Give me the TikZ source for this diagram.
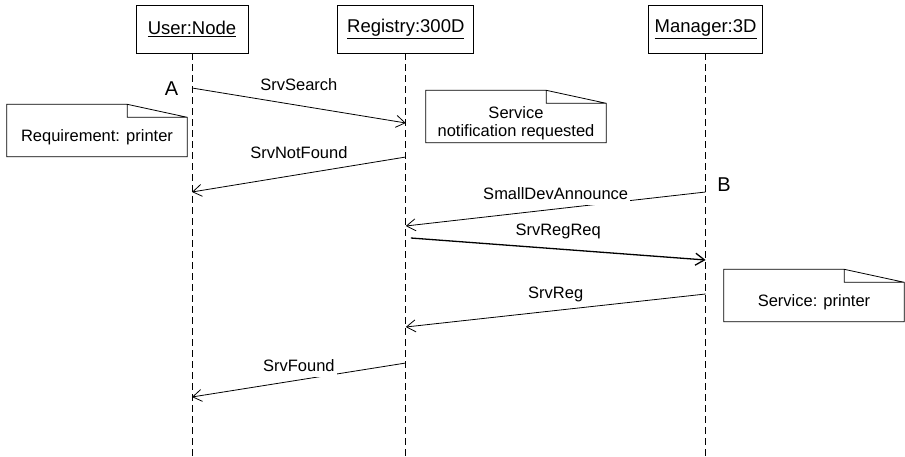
\documentclass[tikz,border=0pt]{standalone}
\usepackage{fontspec}
\setmainfont{Liberation Sans}
\usetikzlibrary{arrows.meta,positioning,calc}

\begin{document}
\begin{tikzpicture}[x=1pt,y=-1pt,
  obj/.style={draw,line width=0.8pt,minimum height=48pt,inner sep=2pt,font=\fontsize{18.5}{20}\selectfont},
  life/.style={line width=0.7pt,dash pattern=on 7pt off 4pt},
  msg/.style={-{Straight Barb[length=9pt,width=12pt]},line width=0.8pt},
  lbl/.style={font=\fontsize{16.5}{18}\selectfont,text height=12pt,text depth=3.5pt,inner sep=2pt},
  note/.style={align=center,minimum width=180pt,minimum height=39pt,inner sep=2pt,font=\fontsize{16.5}{18}\selectfont},
  tag/.style={font=\fontsize{20}{22}\selectfont,inner sep=0pt}]
\useasboundingbox (0,0) rectangle (905,457);
% objects and lifelines
\node[obj,minimum width=112pt] (user) at (192,29) {\underline{User:Node}};
\node[obj,minimum width=136pt,right=89pt of user] (reg) {\underline{Registry:300D}};
\node[obj,minimum width=114pt,right=174pt of reg] (mgr) {\underline{Manager:3D}};
\foreach \o in {user,reg,mgr}
  \draw[life] (\o.south) -- (\o |- 0,457);
% message end points
\foreach \n/\o/\y in {s1/user/88,e1/reg/123,s2/reg/157,e2/user/192,s3/mgr/192,e3/reg/226,
                      s4/reg/238,e4/mgr/260,s5/mgr/294,e5/reg/327,s6/reg/363,e6/user/397}
  \coordinate (\n) at (\o |- 0,\y);
\draw[msg] (s1) -- node[lbl,yshift=19.5pt] {SrvSearch} (e1);
\draw[msg] (s2) -- node[lbl,yshift=20.5pt] {SrvNotFound} (e2);
\draw[msg] (s3) -- node[lbl,fill=white,yshift=13.5pt] {SmallDevAnnounce} (e3);
\draw[msg,line width=1.3pt] ([xshift=5pt]s4) -- node[lbl,yshift=17.5pt] {SrvRegReq} (e4);
\draw[msg] (s5) -- node[lbl,yshift=16.5pt] {SrvReg} (e5);
\draw[msg] (s6) -- node[lbl,fill=white,yshift=12.5pt] {SrvFound} (e6);
\node[tag] (ta) at (171.5,89) {A};
\node[tag] (tb) at (724,185) {B};
% notes
\node[note] (reqnote) at (97,137) {Requirement: printer};
\node[note] (svcnote) at (516,123) {Service\\notification requested};
\node[note] (prnnote) at (814,302) {Service: printer};
\foreach \n in {reqnote,svcnote,prnnote}
  \draw[line width=0.8pt] (\n.south west) -- ($(\n.north west)+(0,-13)$) -- ($(\n.north east)+(-60,-13)$)
    -- (\n.north east) -- (\n.south east) -- cycle
    ($(\n.north east)+(-60,-13)$) -- ($(\n.north east)+(-60,0)$) -- (\n.north east);
\end{tikzpicture}
\end{document}
